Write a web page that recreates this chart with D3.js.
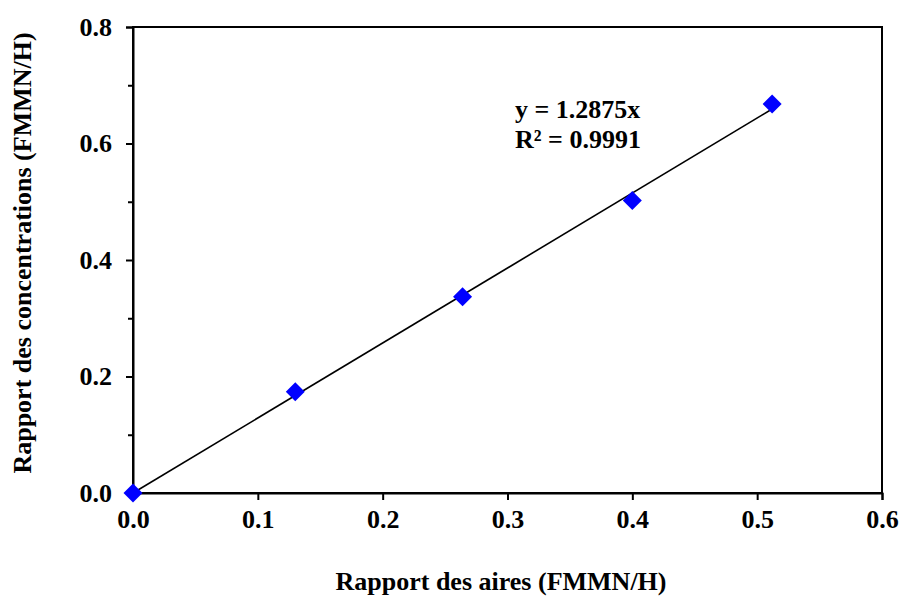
<!DOCTYPE html>
<html><head><meta charset="utf-8">
<script src="https://cdn.jsdelivr.net/npm/d3@7"></script>
<style>body{margin:0;background:#fff}svg{display:block}text{font-family:"Liberation Serif","Times New Roman",serif;font-weight:bold}</style>
</head><body>
<script>
const xValues = [0, 0.13, 0.264, 0.4, 0.512];
const yValues = [0, 0.174, 0.337, 0.502, 0.668];
const slope = 1.2875;
const xTicks = [0, 0.1, 0.2, 0.3, 0.4, 0.5, 0.6];
const yTicks = [0, 0.2, 0.4, 0.6, 0.8];
const yMinorTicks = [0.1, 0.3, 0.5, 0.7];
const eqLines = ["y = 1.2875x", "R² = 0.9991"];

const W = 904, H = 599;
const m = {l:133, r:22, t:27, b:106};
const FS = "26px";
const svg = d3.select("body").append("svg").attr("width", W).attr("height", H);
const x = d3.scaleLinear().domain([0, 0.6]).range([m.l, W - m.r]);
const y = d3.scaleLinear().domain([0, 0.8]).range([H - m.b, m.t]);

svg.append("rect").attr("x", m.l).attr("y", m.t).attr("width", x(0.6)-m.l).attr("height", y(0)-m.t)
  .attr("fill","none").attr("stroke","#000").attr("stroke-width",2);

svg.append("g").attr("transform",`translate(0,${y(0)})`)
  .call(d3.axisBottom(x).tickValues(xTicks).tickFormat(d3.format(".1f")).tickSize(7).tickPadding(10));
svg.append("g").attr("transform",`translate(${m.l},0)`)
  .call(d3.axisLeft(y).tickValues(yTicks).tickFormat(d3.format(".1f")).tickSize(7).tickPadding(14));
svg.append("g").attr("transform",`translate(${m.l},0)`)
  .call(d3.axisLeft(y).tickValues(yMinorTicks).tickFormat("").tickSize(5))
  .select(".domain").remove();
svg.selectAll(".domain").attr("stroke","#000").attr("stroke-width",2);
svg.selectAll(".tick line").attr("stroke","#000").attr("stroke-width",2);
svg.selectAll(".tick text").style("font-size",FS).attr("fill","#000");

const xMax = d3.max(xValues);
svg.append("line").attr("x1", x(0)).attr("y1", y(0)).attr("x2", x(xMax)).attr("y2", y(slope*xMax))
  .attr("stroke","#000").attr("stroke-width",1.6);

const sym = d3.symbol().type(d3.symbolSquare).size(180);
svg.selectAll(".pt").data(xValues).enter().append("path")
  .attr("d", sym)
  .attr("transform",(d,i)=>`translate(${x(d)},${y(yValues[i])}) rotate(45)`)
  .attr("fill","#0000FF");

svg.selectAll(".eq").data(eqLines).enter().append("text")
  .attr("x", 515).attr("y",(d,i)=>118+i*30).style("font-size",FS).text(d=>d);

svg.append("text").attr("x", 501).attr("y", 590).attr("text-anchor","middle")
  .style("font-size",FS).text("Rapport des aires (FMMN/H)");
svg.append("text").attr("transform",`translate(31,253) rotate(-90)`).attr("text-anchor","middle")
  .style("font-size",FS).text("Rapport des concentrations (FMMN/H)");
</script>
</body></html>
